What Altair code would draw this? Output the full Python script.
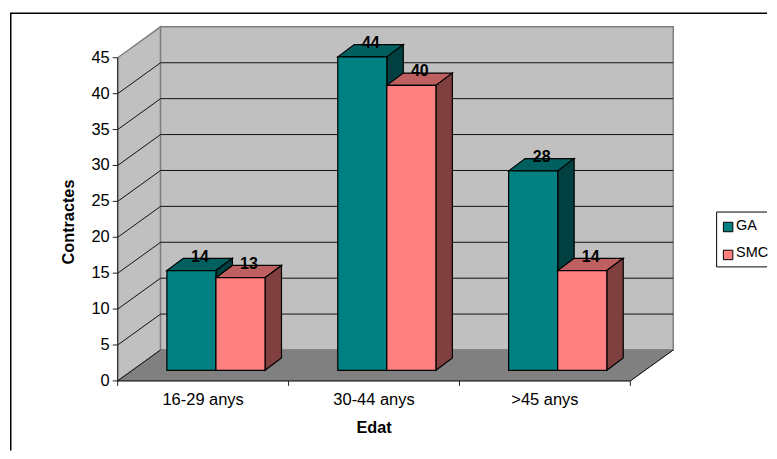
import altair as alt
import pandas as pd

categories = ["16-29 anys", "30-44 anys", ">45 anys"]
ga_values = [14, 44, 28]
smc_values = [13, 40, 14]
y_ticks = [0, 5, 10, 15, 20, 25, 30, 35, 40, 45]
grid_values = [5, 10, 15, 20, 25, 30, 35, 40]

FONT = "Liberation Sans"
# Projection: page pixels per unit of the two axes
PX_CAT, PX_VAL = 171.33, 7.2
X0_PX, Y0_PX = 118.0, 381.3
W, H = 761, 443
x_dom = [(8 - X0_PX) / PX_CAT, (8 + W - X0_PX) / PX_CAT]
y_dom = [(Y0_PX - 8 - H) / PX_VAL, (Y0_PX - 8) / PX_VAL]
DX, DY = 43 / PX_CAT, 31 / PX_VAL           # room depth
BDX, BDY = 16.5 / PX_CAT, 12.3 / PX_VAL     # bar depth
BAR_W = 49.2 / PX_CAT
BAR_X = 49.3 / PX_CAT
BAR_BASE = 10.6 / PX_VAL
BAR_K = 0.992
VMAX = 45
NCAT = len(categories)

X = alt.X("x:Q", scale=alt.Scale(domain=x_dom, nice=False, zero=False), axis=None)
Y = alt.Y("y:Q", scale=alt.Scale(domain=y_dom, nice=False, zero=False), axis=None)


def rows_box(name, fill, x0, x1, y0, y1, dx, dy):
    """Front-face, side-face and top-face outlines as (x, y, y2) rows."""
    front = [dict(poly=name + "f", fill=fill[0], x=x, y=y1, y2=y0) for x in (x0, x1)]
    side = [dict(poly=name + "s", fill=fill[1], x=x1, y=y1, y2=y0),
            dict(poly=name + "s", fill=fill[1], x=x1 + dx, y=y1 + dy, y2=y0 + dy)]
    top = [dict(poly=name + "t", fill=fill[2], x=x0, y=y1, y2=y1),
           dict(poly=name + "t", fill=fill[2], x=x0 + dx, y=y1 + dy, y2=y1),
           dict(poly=name + "t", fill=fill[2], x=x1, y=y1 + dy, y2=y1),
           dict(poly=name + "t", fill=fill[2], x=x1 + dx, y=y1 + dy, y2=y1 + dy)]
    return top + side + front


GA_FILL = ("#008080", "#004040", "#006060")
SMC_FILL = ("#FF8080", "#804040", "#BF6060")

bar_rows, label_rows = [], []
for i, (g, s) in enumerate(zip(ga_values, smc_values)):
    xl = i + BAR_X
    bar_rows += rows_box(f"g{i}", GA_FILL, xl, xl + BAR_W, BAR_BASE, BAR_BASE + g * BAR_K, BDX, BDY)
    bar_rows += rows_box(f"s{i}", SMC_FILL, xl + BAR_W, xl + 2 * BAR_W, BAR_BASE, BAR_BASE + s * BAR_K, BDX, BDY)
    label_rows.append(dict(x=xl + BAR_W / 2 + 8.5 / PX_CAT, y=BAR_BASE + g * BAR_K + 14 / PX_VAL, t=str(g)))
    label_rows.append(dict(x=xl + 1.5 * BAR_W + 8.5 / PX_CAT, y=BAR_BASE + s * BAR_K + 14 / PX_VAL, t=str(s)))
bars_df = pd.DataFrame(bar_rows)
labels_df = pd.DataFrame(label_rows)

# Room
wall_df = pd.DataFrame([
    dict(poly="left", x=0, y=VMAX, y2=0),
    dict(poly="left", x=DX, y=VMAX + DY, y2=DY),
    dict(poly="back", x=DX, y=VMAX + DY, y2=DY),
    dict(poly="back", x=NCAT + DX, y=VMAX + DY, y2=DY),
])
floor_df = pd.DataFrame([
    dict(x=0, y=0, y2=0),
    dict(x=DX, y=DY, y2=0),
    dict(x=NCAT, y=DY, y2=0),
    dict(x=NCAT + DX, y=DY, y2=DY),
])
walls = alt.Chart(wall_df).mark_area(fill="#C0C0C0", stroke="#808080", strokeWidth=1.5, opacity=1).encode(
    x=X, y=Y, y2="y2:Q", detail="poly:N")
floor = alt.Chart(floor_df).mark_area(fill="#808080", stroke="#808080", strokeWidth=1, opacity=1).encode(x=X, y=Y, y2="y2:Q")

grid_rows = []
for v in grid_values:
    grid_rows += [dict(g=v, x=0, y=v), dict(g=v, x=DX, y=v + DY), dict(g=v, x=NCAT + DX, y=v + DY)]
grid = alt.Chart(pd.DataFrame(grid_rows)).mark_line(color="#111111", strokeWidth=1).encode(x=X, y=Y, detail="g:N")

# Front-left edge of the room, with its value ticks and labels
edge_df = pd.DataFrame({"x": [0], "y": [0], "y2": [VMAX]})
edge = alt.Chart(edge_df).mark_rule(color="#222222", strokeWidth=1).encode(x=X, y=Y, y2="y2:Q")
tick_dx = 5 / PX_CAT
vt_df = pd.DataFrame({"x": [-tick_dx] * len(y_ticks), "x2": [0] * len(y_ticks), "y": y_ticks,
                      "lx": [-8 / PX_CAT] * len(y_ticks), "t": [str(v) for v in y_ticks]})
v_ticks = alt.Chart(vt_df).mark_rule(color="#222222", strokeWidth=1).encode(x=X, x2="x2:Q", y=Y)
v_labels = alt.Chart(vt_df).mark_text(font=FONT, fontSize=16.5, color="#000000", align="right", baseline="middle").encode(
    x=alt.X("lx:Q", scale=alt.Scale(domain=x_dom, nice=False, zero=False), axis=None), y=Y, text="t:N")

base_df = pd.DataFrame([dict(l="b", x=0, y=0), dict(l="b", x=NCAT, y=0), dict(l="b", x=NCAT + DX, y=DY),
                        dict(l="d", x=0, y=0), dict(l="d", x=DX, y=DY)])
base_line = alt.Chart(base_df).mark_line(color="#111111", strokeWidth=1).encode(x=X, y=Y, detail="l:N")

tick_len = 5 / PX_VAL
ticks_df = pd.DataFrame({"x": list(range(NCAT + 1)), "y": [0] * (NCAT + 1), "y2": [-tick_len] * (NCAT + 1)})
x_ticks = alt.Chart(ticks_df).mark_rule(color="#222222", strokeWidth=1).encode(x=X, y=Y, y2="y2:Q")

cat_df = pd.DataFrame({"x": [i + 0.5 for i in range(NCAT)], "y": [-19 / PX_VAL] * NCAT, "t": categories})
cat_text = alt.Chart(cat_df).mark_text(font=FONT, fontSize=16.5, color="#000000", align="center", baseline="middle").encode(
    x=X, y=Y, text="t:N")

bars = alt.Chart(bars_df).mark_area(stroke="#000000", strokeWidth=1.2, opacity=1).encode(
    x=X, y=Y, y2="y2:Q", detail="poly:N", fill=alt.Fill("fill:N", scale=None))
bar_labels = alt.Chart(labels_df).mark_text(font=FONT, fontSize=16, fontWeight="bold", color="#000000",
                                            align="center", baseline="middle").encode(x=X, y=Y, text="t:N")

x_title = alt.Chart(pd.DataFrame({"t": ["Edat"]})).mark_text(font=FONT, fontSize=16.3, fontWeight="bold", color="#000000").encode(
    x=alt.value(375 - 8), y=alt.value(429 - 8), text="t:N")
y_title = alt.Chart(pd.DataFrame({"t": ["Contractes"]})).mark_text(font=FONT, fontSize=16.3, fontWeight="bold", color="#000000", angle=270).encode(
    x=alt.value(69 - 8), y=alt.value(222 - 8), text="t:N")

frame = alt.Chart(pd.DataFrame({"a": [0]})).mark_rect(fill="white", stroke="#000000", strokeWidth=1.5, clip=True).encode(
    x=alt.value(10.75 - 8), x2=alt.value(800), y=alt.value(12.75 - 8), y2=alt.value(480))
legend_box = alt.Chart(pd.DataFrame({"a": [0]})).mark_rect(fill="white", stroke="#000000", strokeWidth=1, clip=True).encode(
    x=alt.value(718.5 - 8), x2=alt.value(800), y=alt.value(212 - 8), y2=alt.value(267 - 8))
legend_df = pd.DataFrame({"t": ["GA", "SMC"], "fill": [GA_FILL[0], SMC_FILL[0]], "py": [227 - 8, 255 - 8]})
legend_sym = alt.Chart(legend_df).mark_square(size=90, stroke="#000000", strokeWidth=1, opacity=1).encode(
    x=alt.value(730 - 8), y=alt.Y("py:Q", scale=None, axis=None), fill=alt.Fill("fill:N", scale=None))
legend_text = alt.Chart(legend_df).mark_text(font=FONT, fontSize=14.5, color="#000000", align="left", baseline="middle", dy=-1.5).encode(
    x=alt.value(738 - 8), y=alt.Y("py:Q", scale=None, axis=None), text="t:N")

chart = alt.layer(
    frame, walls, floor, grid, edge, v_ticks, v_labels, base_line, x_ticks, cat_text, bars, bar_labels,
    x_title, y_title, legend_box, legend_sym, legend_text,
).properties(width=W, height=H, padding=0).configure_view(stroke=None)

chart.save("out.html", embed_options={"renderer": "svg", "actions": False})
